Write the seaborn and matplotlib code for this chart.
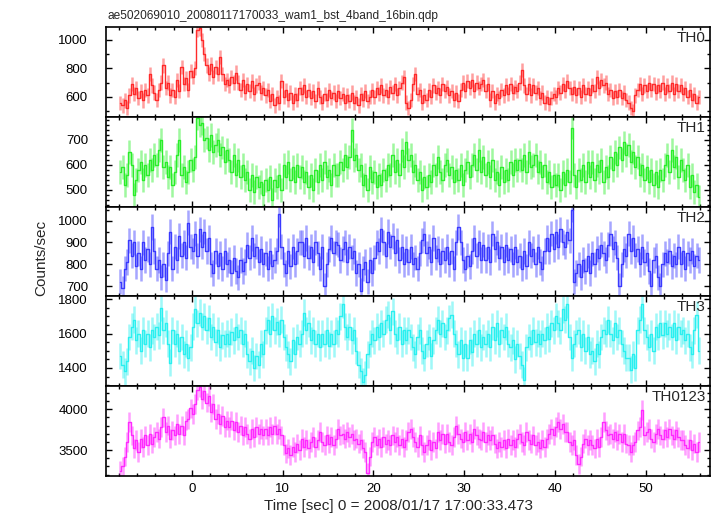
import numpy as np
import pandas as pd
import matplotlib
matplotlib.use('Agg')
import matplotlib.pyplot as plt
from matplotlib.ticker import MultipleLocator
import seaborn as sns

sns.set_theme(style='ticks')
plt.rcParams['font.family'] = ['Liberation Sans', 'DejaVu Sans']

title = 'ae502069010_20080117170033_wam1_bst_4band_16bin.qdp'
t_start = -8.0
bin_width = 0.25

# counts/sec per 0.25 s bin (16 bins = 4 s per row)
th0 = [555, 540, 575, 520, 610, 690, 620, 660, 590, 640, 575, 650, 610, 760, 680, 630,
       580, 650, 700, 820, 660, 700, 610, 650, 600, 720, 640, 810, 690, 730, 650, 780,
       740, 800, 1070, 1080, 1000, 900, 820, 760, 830, 740, 810, 760, 880, 760, 690, 720,
       680, 740, 700, 770, 700, 650, 720, 630, 690, 640, 710, 620, 680, 700, 630, 660,
       610, 650, 570, 620, 540, 600, 560, 710, 600, 650, 580, 630, 560, 620, 580, 660,
       620, 680, 600, 650, 590, 640, 570, 660, 600, 560, 620, 580, 650, 590, 630, 570,
       640, 590, 620, 560, 610, 570, 630, 560, 600, 540, 620, 580, 640, 570, 600, 650,
       600, 660, 620, 680, 610, 650, 600, 670, 630, 690, 610, 660, 700, 740, 560, 520,
       580, 690, 760, 620, 650, 560, 610, 580, 650, 600, 680, 630, 660, 610, 690, 640,
       670, 610, 640, 580, 630, 570, 650, 700, 640, 710, 660, 720, 640, 700, 660, 690,
       720, 640, 690, 580, 640, 560, 620, 590, 650, 610, 680, 620, 690, 630, 670, 640,
       700, 790, 680, 620, 690, 610, 680, 630, 660, 590, 630, 560, 600, 550, 590, 620,
       600, 660, 630, 690, 640, 710, 660, 620, 670, 610, 660, 600, 680, 620, 660, 610,
       680, 640, 740, 660, 720, 680, 700, 620, 650, 590, 640, 600, 650, 590, 630, 580,
       560, 520, 500, 610, 650, 690, 620, 680, 640, 700, 650, 690, 630, 680, 640, 700,
       620, 680, 640, 700, 620, 690, 640, 680, 620, 660, 600, 650, 580, 620, 560, 600]

th1 = [570, 590, 520, 560, 650, 600, 480, 540, 580, 610, 540, 600, 560, 620, 580, 640,
       600, 660, 700, 590, 610, 550, 590, 520, 570, 640, 700, 560, 590, 530, 570, 620,
       580, 630, 790, 760, 770, 700, 710, 660, 720, 650, 680, 700, 640, 670, 610, 660,
       620, 570, 640, 560, 620, 550, 600, 540, 570, 500, 560, 490, 550, 510, 530, 480,
       540, 500, 550, 460, 540, 510, 560, 500, 600, 550, 610, 540, 590, 530, 600, 550,
       590, 530, 570, 510, 560, 500, 580, 530, 600, 540, 610, 550, 580, 520, 600, 560,
       560, 610, 580, 640, 590, 630, 740, 620, 640, 580, 600, 520, 560, 500, 590, 530,
       570, 510, 560, 520, 580, 540, 600, 560, 640, 570, 620, 560, 660, 590, 690, 620,
       640, 570, 600, 540, 570, 500, 550, 510, 560, 530, 600, 560, 630, 570, 540, 600,
       620, 560, 590, 530, 580, 540, 600, 520, 580, 610, 550, 600, 640, 580, 660, 570,
       630, 560, 610, 550, 620, 540, 570, 520, 590, 530, 580, 540, 610, 560, 620, 580,
       620, 580, 640, 570, 650, 590, 600, 640, 570, 610, 550, 600, 530, 570, 510, 560,
       520, 560, 500, 570, 520, 580, 530, 750, 560, 510, 580, 540, 600, 530, 610, 550,
       610, 540, 600, 570, 620, 530, 590, 550, 630, 580, 650, 600, 670, 620, 690, 640,
       680, 610, 650, 590, 630, 560, 600, 540, 590, 530, 580, 520, 570, 510, 580, 540,
       600, 640, 570, 660, 590, 630, 550, 620, 580, 540, 600, 510, 560, 490, 520, 470]

th2 = [720, 690, 780, 810, 910, 840, 900, 790, 850, 780, 900, 820, 870, 800, 970, 860,
       780, 820, 740, 800, 730, 850, 950, 780, 880, 820, 930, 840, 900, 830, 990, 880,
       860, 940, 840, 960, 880, 950, 860, 920, 800, 760, 860, 790, 850, 780, 860, 800,
       820, 760, 830, 770, 740, 820, 770, 810, 890, 830, 920, 840, 880, 810, 870, 800,
       850, 780, 860, 790, 820, 860, 1030, 880, 800, 760, 860, 790, 880, 800, 860, 900,
       900, 840, 920, 830, 880, 810, 900, 850, 780, 880, 700, 800, 870, 920, 850, 900,
       890, 820, 870, 900, 810, 880, 830, 860, 760, 800, 680, 780, 810, 720, 820, 760,
       830, 900, 860, 960, 900, 840, 950, 880, 930, 850, 910, 820, 880, 800, 870, 810,
       880, 800, 830, 780, 850, 910, 940, 850, 880, 810, 920, 830, 870, 800, 860, 820,
       880, 800, 860, 780, 900, 970, 900, 820, 780, 840, 790, 860, 920, 840, 900, 820,
       890, 820, 880, 810, 940, 870, 900, 830, 880, 810, 890, 820, 870, 800, 880, 810,
       840, 780, 860, 790, 900, 840, 870, 800, 880, 810, 780, 860, 920, 860, 940, 870,
       950, 880, 960, 900, 880, 950, 910, 1050, 720, 760, 800, 740, 820, 770, 840, 760,
       850, 800, 870, 830, 890, 850, 820, 890, 940, 870, 900, 830, 700, 800, 870, 840,
       940, 860, 920, 840, 870, 800, 880, 810, 850, 770, 700, 820, 840, 740, 700, 800,
       850, 810, 860, 790, 840, 800, 880, 800, 860, 780, 850, 820, 860, 790, 840, 820]

th3 = [1470, 1420, 1380, 1440, 1580, 1640, 1680, 1560, 1600, 1500, 1620, 1540, 1600, 1520, 1620, 1580,
       1640, 1590, 1750, 1620, 1660, 1540, 1430, 1620, 1540, 1600, 1500, 1580, 1480, 1540, 1460, 1520,
       1640, 1740, 1660, 1720, 1640, 1700, 1620, 1690, 1580, 1640, 1550, 1620, 1520, 1590, 1540, 1600,
       1540, 1610, 1560, 1640, 1580, 1620, 1540, 1600, 1480, 1440, 1500, 1400, 1470, 1420, 1540, 1480,
       1620, 1680, 1600, 1700, 1620, 1670, 1600, 1680, 1580, 1520, 1480, 1440, 1560, 1480, 1580, 1540,
       1600, 1720, 1620, 1660, 1560, 1620, 1540, 1600, 1520, 1600, 1540, 1620, 1530, 1600, 1540, 1620,
       1600, 1700, 1770, 1640, 1580, 1640, 1560, 1620, 1500, 1420, 1380, 1320, 1360, 1480, 1540, 1600,
       1560, 1640, 1580, 1660, 1600, 1680, 1710, 1620, 1730, 1600, 1560, 1640, 1540, 1620, 1560, 1620,
       1580, 1520, 1480, 1580, 1620, 1500, 1460, 1540, 1580, 1470, 1560, 1620, 1680, 1600, 1660, 1580,
       1620, 1690, 1710, 1600, 1540, 1480, 1560, 1460, 1540, 1460, 1560, 1490, 1600, 1540, 1620, 1520,
       1580, 1540, 1600, 1520, 1640, 1560, 1660, 1540, 1620, 1580, 1640, 1540, 1520, 1560, 1450, 1540,
       1470, 1420, 1330, 1520, 1580, 1540, 1620, 1550, 1600, 1540, 1600, 1560, 1640, 1570, 1660, 1620,
       1700, 1660, 1620, 1740, 1680, 1770, 1580, 1460, 1540, 1600, 1620, 1520, 1600, 1500, 1580, 1480,
       1500, 1440, 1540, 1480, 1580, 1620, 1600, 1680, 1600, 1560, 1660, 1580, 1620, 1540, 1500, 1460,
       1460, 1390, 1480, 1400, 1620, 1680, 1770, 1620, 1580, 1520, 1600, 1500, 1640, 1580, 1660, 1590,
       1660, 1600, 1640, 1580, 1660, 1560, 1640, 1600, 1620, 1560, 1600, 1520, 1480, 1620, 1710, 1500]

th0123 = [3250, 3300, 3420, 3600, 3840, 3680, 3520, 3620, 3480, 3640, 3540, 3680, 3560, 3700, 3580, 3660,
          3720, 3640, 3780, 3900, 3720, 3800, 3640, 3740, 3680, 3820, 3700, 3800, 3680, 3860, 3880, 4010,
          3940, 4060, 4230, 4270, 4120, 4220, 4080, 4160, 3960, 4060, 3880, 3940, 3820, 3920, 3780, 3860,
          3780, 3860, 3740, 3840, 3720, 3800, 3680, 3780, 3700, 3640, 3760, 3660, 3780, 3700, 3760, 3680,
          3760, 3680, 3780, 3700, 3800, 3700, 3760, 3680, 3560, 3460, 3520, 3440, 3540, 3480, 3580, 3500,
          3640, 3540, 3620, 3520, 3600, 3660, 3540, 3620, 3720, 3600, 3560, 3680, 3580, 3660, 3560, 3640,
          3760, 3680, 3700, 3640, 3720, 3660, 3700, 3620, 3640, 3580, 3620, 3520, 3480, 3220, 3420, 3600,
          3660, 3560, 3640, 3540, 3660, 3580, 3620, 3560, 3680, 3600, 3660, 3560, 3640, 3540, 3620, 3720,
          3760, 3660, 3600, 3540, 3680, 3560, 3480, 3560, 3620, 3500, 3600, 3520, 3720, 3620, 3700, 3580,
          3700, 3600, 3560, 3660, 3800, 3700, 3640, 3600, 3720, 3620, 3700, 3600, 3760, 3680, 3640, 3620,
          3720, 3600, 3680, 3620, 3680, 3580, 3520, 3600, 3540, 3620, 3520, 3640, 3560, 3620, 3540, 3640,
          3700, 3600, 3560, 3720, 3620, 3580, 3680, 3560, 3600, 3520, 3620, 3540, 3640, 3700, 3760, 3680,
          3780, 3840, 3760, 3820, 3720, 3720, 3600, 3560, 3620, 3440, 3330, 3420, 3580, 3640, 3560, 3620,
          3560, 3520, 3640, 3540, 3660, 3840, 3740, 3680, 3700, 3640, 3720, 3620, 3700, 3600, 3700, 3580,
          3560, 3480, 3560, 3600, 3740, 3780, 3990, 3680, 3720, 3760, 3640, 3600, 3700, 3760, 3680, 3640,
          3740, 3660, 3760, 3680, 3640, 3740, 3660, 3620, 3620, 3560, 3520, 3620, 3500, 3580, 3480, 3600]

bands = ['TH0', 'TH1', 'TH2', 'TH3', 'TH0123']
series = [th0, th1, th2, th3, th0123]
errors = [50, 48, 58, 78, 120]
colors = ['#ff2a2a', '#2aee2a', '#3a3aff', '#2af0f0', '#ff2aff']
ylims = [(460, 1090), (433, 793), (653, 1064), (1294, 1816), (3183, 4281)]
major_step = [200, 100, 100, 200, 500]
minor_step = [100, 20, 50, 50, 100]

time = t_start + bin_width / 2 + bin_width * np.arange(len(th0))

fig = plt.figure(figsize=(7.17, 5.16), dpi=100)
W, H = 717, 516
left, right, top, bottom = 106, 710, 27, 476
ph = (bottom - top) / len(bands)

for i, band in enumerate(bands):
    ax = fig.add_axes([left / W, 1 - (top + (i + 1) * ph) / H, (right - left) / W, ph / H])
    df = pd.DataFrame({'time': time, 'rate': series[i]})
    ax.errorbar(df['time'], df['rate'], yerr=errors[i], fmt='none',
                ecolor=colors[i], elinewidth=1.8, alpha=0.45)
    sns.lineplot(data=df, x='time', y='rate', ax=ax, color=colors[i],
                 drawstyle='steps-mid', lw=1.0, estimator=None)
    ax.set_xlim(-9.45, 57.1)
    ax.set_ylim(*ylims[i])
    ax.xaxis.set_major_locator(MultipleLocator(10))
    ax.xaxis.set_minor_locator(MultipleLocator(2))
    ax.yaxis.set_major_locator(MultipleLocator(major_step[i]))
    ax.yaxis.set_minor_locator(MultipleLocator(minor_step[i]))
    ax.tick_params(which='both', direction='in', top=True, right=True,
                   colors='black', labelsize=9.5, width=1.0)
    ax.tick_params(which='major', length=4.5)
    ax.tick_params(which='minor', length=2.2)
    ax.tick_params(axis='y', pad=13)
    ax.tick_params(axis='x', pad=5)
    for s in ax.spines.values():
        s.set_linewidth(1.2)
        s.set_color('black')
    ax.set_xlabel('')
    ax.set_ylabel('')
    if i < len(bands) - 1:
        ax.tick_params(axis='x', labelbottom=False)
    ax.text(0.993, 0.955, band, transform=ax.transAxes, ha='right', va='top', fontsize=11)

fig.text(108 / W, 1 - 19.5 / H, title, ha='left', va='baseline', fontsize=8.6)
fig.text(41 / W, 1 - 258 / H, 'Counts/sec', rotation=90, ha='center', va='center', fontsize=11)
fig.text(399 / W, 1 - 510 / H, 'Time [sec] 0 = 2008/01/17 17:00:33.473',
         ha='center', va='baseline', fontsize=11)

fig.savefig('out.png', dpi=100)
